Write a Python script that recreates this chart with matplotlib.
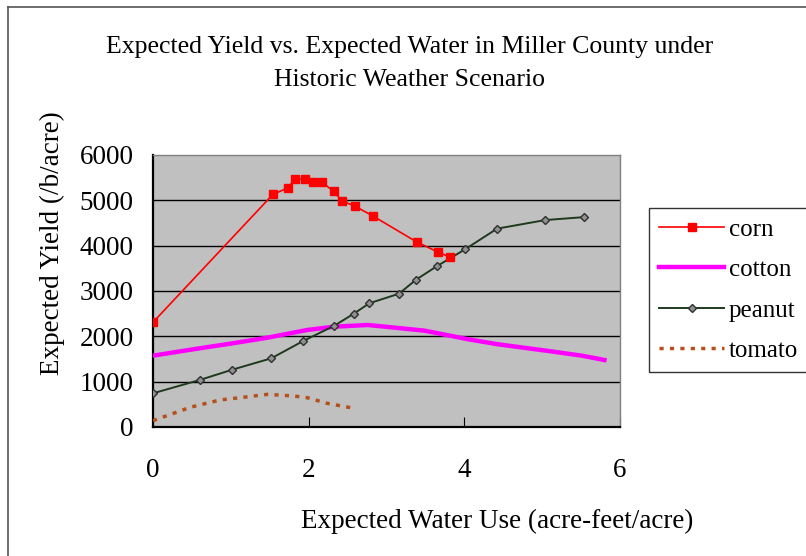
import matplotlib
matplotlib.use("Agg")
import matplotlib.pyplot as plt
from matplotlib.lines import Line2D

plt.rcParams['font.family'] = ['Liberation Serif', 'DejaVu Serif']

# corn (markers)
corn_x = [0, 1.54, 1.74, 1.82, 1.95, 2.06, 2.17, 2.32, 2.43, 2.59, 2.83, 3.39, 3.66, 3.82]
corn_y = [2310, 5130, 5280, 5470, 5470, 5400, 5400, 5200, 4985, 4875, 4650, 4080, 3860, 3745]

# cotton (thick line, no markers)
cotton_x = [0, 0.5, 1.0, 1.47, 1.98, 2.33, 2.76, 3.0, 3.49, 4.05, 4.43, 5.08, 5.51, 5.80]
cotton_y = [1573, 1710, 1840, 1970, 2140, 2213, 2250, 2210, 2125, 1935, 1825, 1677, 1573, 1478]

# peanut
peanut_x = [0, 0.6, 1.02, 1.52, 1.93, 2.33, 2.58, 2.78, 3.16, 3.38, 3.65, 4.01, 4.42, 5.04, 5.54]
peanut_y = [743, 1037, 1265, 1515, 1897, 2235, 2500, 2730, 2940, 3250, 3550, 3920, 4375, 4565, 4630]

# tomato
tomato_x = [0, 0.48, 0.86, 1.12, 1.47, 1.81, 1.98, 2.24, 2.54]
tomato_y = [140, 435, 596, 647, 720, 684, 647, 522, 426]

xticks = [0, 2, 4, 6]
yticks = [0, 1000, 2000, 3000, 4000, 5000, 6000]

fig = plt.figure(figsize=(8.06, 5.56), dpi=100)
ax = fig.add_axes([153/806, 1 - 427/556, (620-153)/806, (427-155)/556])
ax.set_facecolor('#C0C0C0')

# horizontal gridlines
for v in yticks[1:-1]:
    ax.axhline(v, color='black', lw=1.0, zorder=1)

ax.plot(corn_x, corn_y, color='#FF0000', lw=1.2, marker='s', ms=6,
        mfc='#FF0000', mec='#FF0000', label='corn', zorder=4)
ax.plot(cotton_x, cotton_y, color='#FF00FF', lw=3.2, label='cotton', zorder=3)
ax.plot(peanut_x, peanut_y, color='#1E3A1E', lw=1.4, marker='D', ms=4.5,
        mfc='#909090', mec='#303030', mew=1.0, label='peanut', zorder=3)
ax.plot(tomato_x, tomato_y, color='#B5501A', lw=2.5, ls=(0, (1.2, 1.8)),
        label='tomato', zorder=3)

ax.set_xlim(0, 6)
ax.set_ylim(0, 6000)
ax.set_xticks(xticks)
ax.set_yticks(yticks)
ax.tick_params(axis='x', direction='in', length=7, pad=22, labelsize=19.5)
ax.tick_params(axis='y', length=0, pad=14, labelsize=19.5)

for side in ['top', 'right']:
    ax.spines[side].set_color('#808080')
    ax.spines[side].set_linewidth(1.0)
for side in ['left', 'bottom']:
    ax.spines[side].set_color('black')
    ax.spines[side].set_linewidth(1.6)

fig.text(410/806, 1 - 47/556, 'Expected Yield vs. Expected Water in Miller County under',
         ha='center', va='center', fontsize=18.5)
fig.text(410/806, 1 - 80/556, 'Historic Weather Scenario',
         ha='center', va='center', fontsize=18.5)
fig.text(497/806, 1 - 521/556, 'Expected Water Use (acre-feet/acre)',
         ha='center', va='center', fontsize=19.5)
fig.text(52/806, 1 - 243/556, 'Expected Yield (/b/acre)',
         ha='center', va='center', fontsize=19.5, rotation=90)

leg = fig.legend(loc='upper left', bbox_to_anchor=(649/806, 1 - 208/556),
                 fontsize=18, handlelength=2.6, handletextpad=0.2,
                 labelspacing=0.72, borderpad=0.4, borderaxespad=0,
                 fancybox=False, frameon=True, edgecolor='black')
leg.get_frame().set_linewidth(1.0)

# outer chart border
fig.add_artist(Line2D([8/806, 8/806], [0, 1 - 7/556], color='#555555', lw=1.2))
fig.add_artist(Line2D([8/806, 1], [1 - 7/556, 1 - 7/556], color='#555555', lw=1.2))

fig.savefig('out.png', dpi=100)
